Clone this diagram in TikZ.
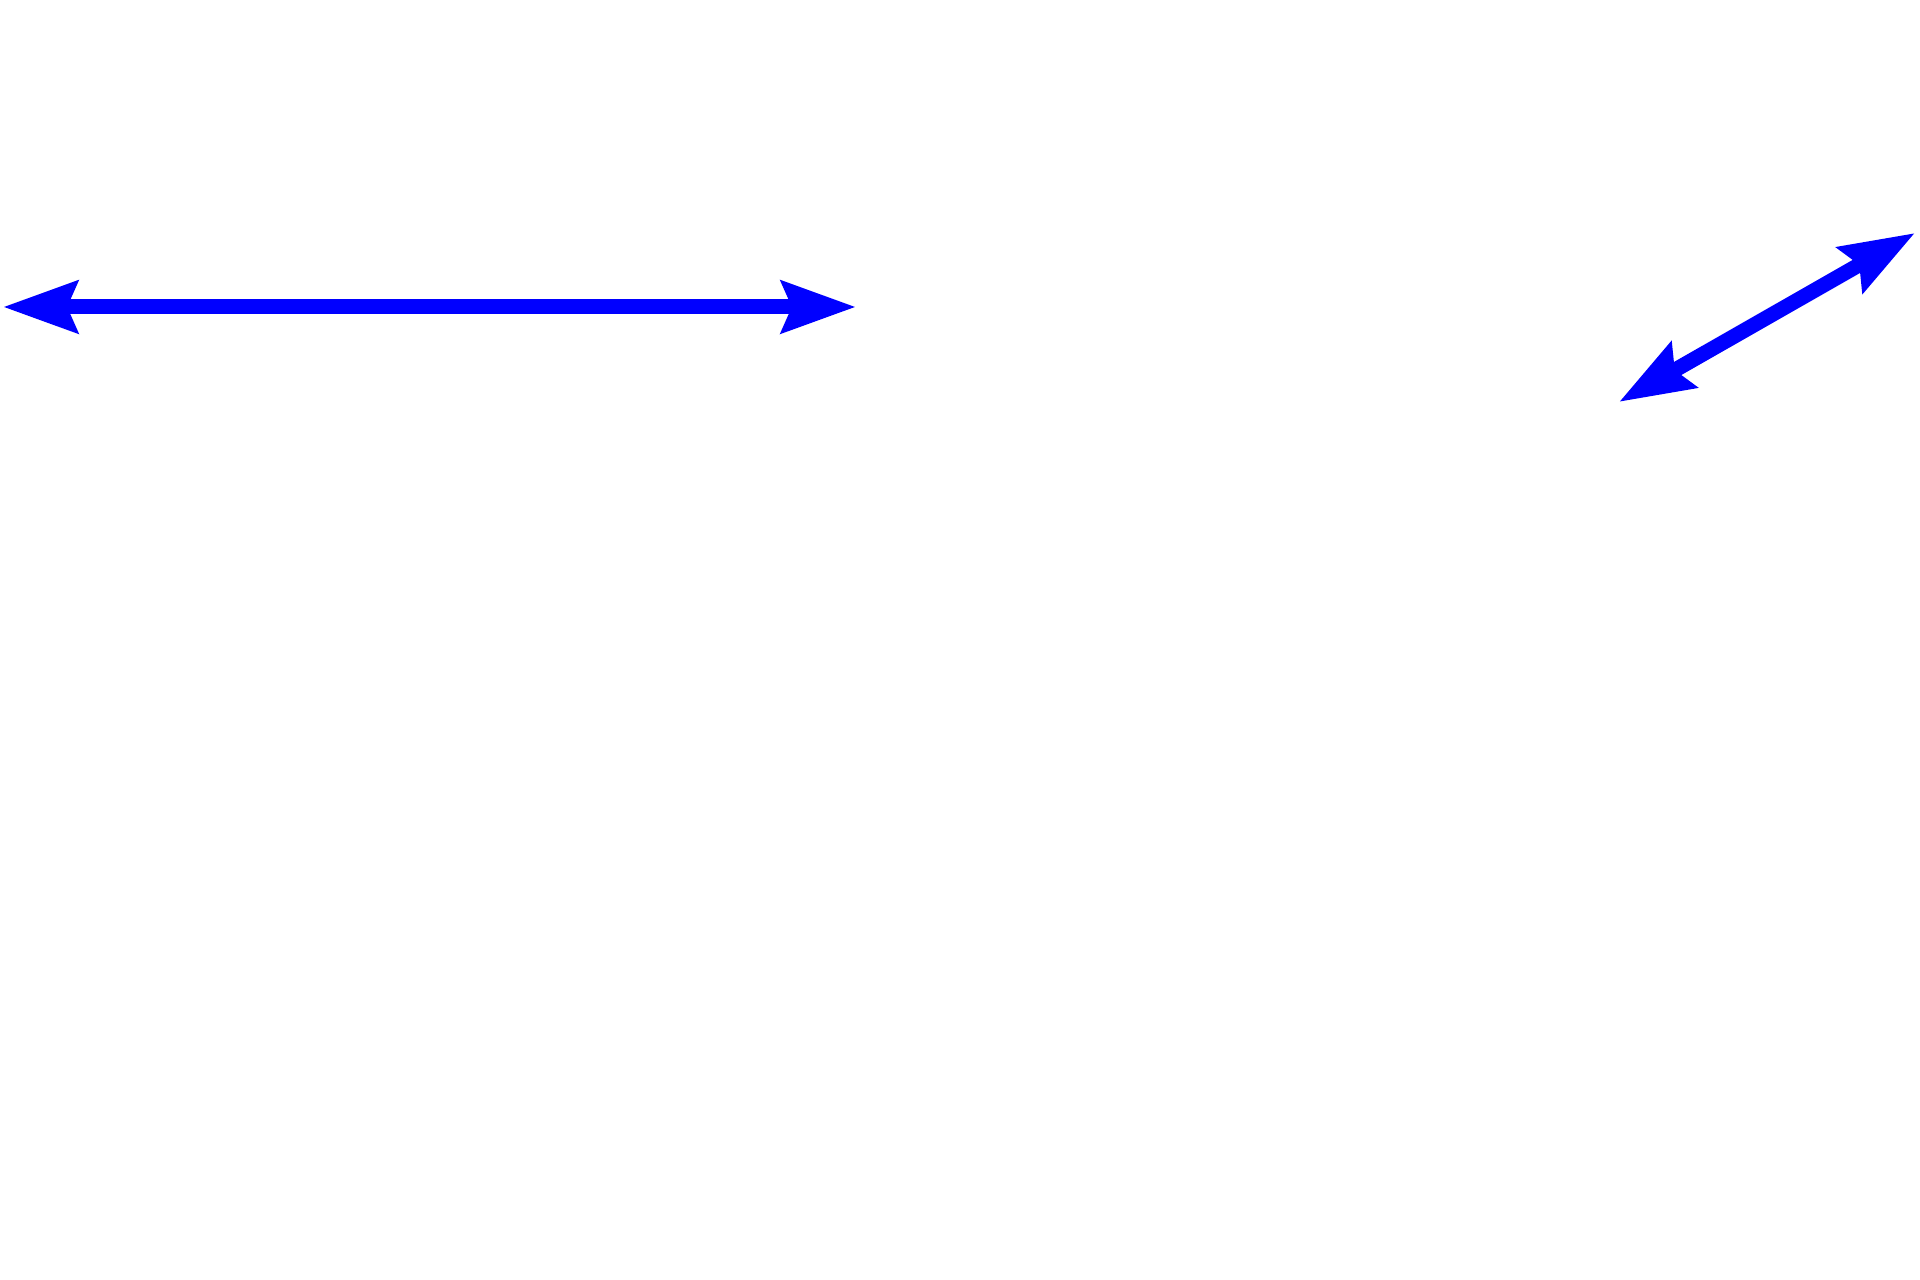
\documentclass[tikz,border=0pt]{standalone}
\usetikzlibrary{arrows.meta}
\tikzset{
  bluearrow/.style={draw={rgb,255:red,0;green,0;blue,255}, line width=1.5mm,
    {Stealth[length=7.4mm,width=5.1mm,inset=1mm]}-{Stealth[length=7.4mm,width=5.1mm,inset=1mm]}}
}
\begin{document}
\begin{tikzpicture}
\useasboundingbox (0,0) rectangle (19.2,12.8);
\coordinate (hl) at (0.03,9.73);
\coordinate (hr) at (8.56,9.73);
\coordinate (dl) at (16.19,8.78);
\coordinate (dr) at (19.15,10.47);
\draw[bluearrow] (hl) -- (hr);
\draw[bluearrow] (dl) -- (dr);
\end{tikzpicture}
\end{document}
